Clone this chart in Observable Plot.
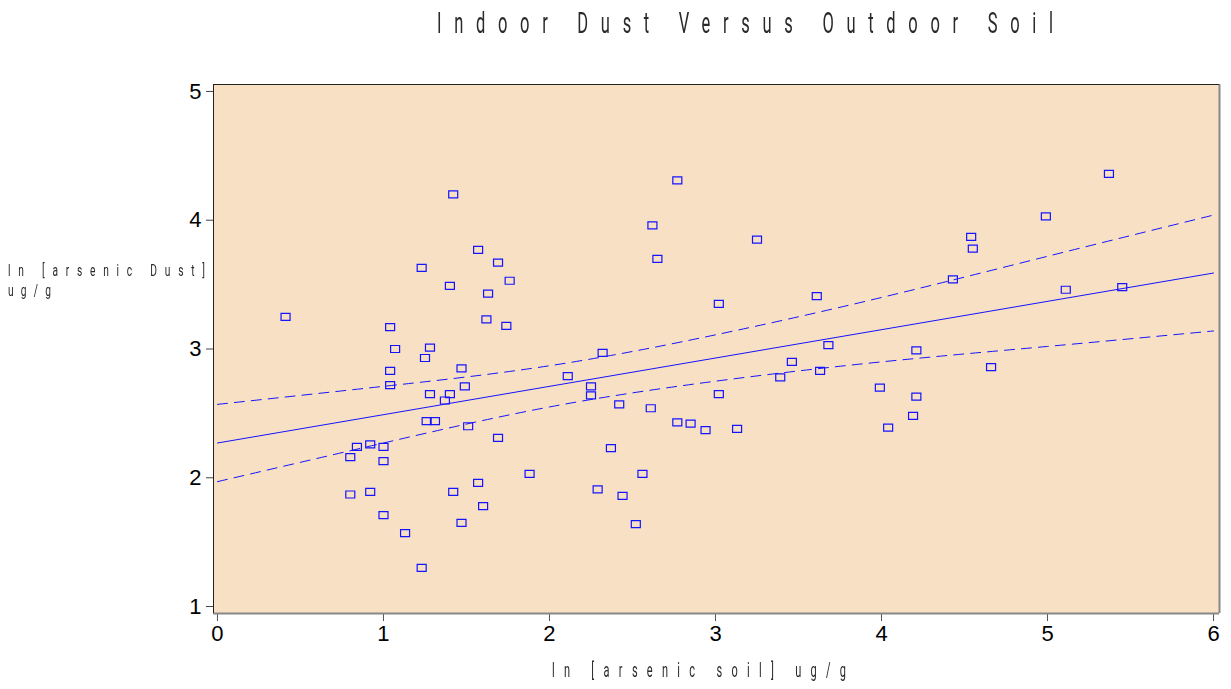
<!DOCTYPE html>
<html><head><meta charset="utf-8">
<script src="https://cdn.jsdelivr.net/npm/d3@7"></script>
<script src="https://cdn.jsdelivr.net/npm/@observablehq/plot@0.6"></script>
<style>body{margin:0;background:#fff;overflow:hidden}</style>
</head><body><div id="chart"></div>
<script>
// ln [arsenic soil] ug/g
const soil = [0.41,0.80,0.80,0.84,0.92,0.92,1.00,1.00,1.00,1.04,1.04,1.04,1.07,1.13,1.23,1.23,1.25,1.28,1.28,1.26,
  1.31,1.42,1.40,1.40,1.37,1.42,1.47,1.49,1.47,1.51,1.57,1.57,1.60,1.62,1.63,1.69,1.69,1.74,1.76,1.88,
  2.11,2.25,2.25,2.29,2.32,2.37,2.42,2.44,2.52,2.56,2.61,2.62,2.65,2.77,2.77,2.85,2.94,3.02,3.02,3.13,
  3.25,3.39,3.46,3.61,3.63,3.68,3.99,4.04,4.19,4.21,4.21,4.43,4.54,4.55,4.66,4.99,5.11,5.37,5.45];
// ln [arsenic Dust] ug/g
const dust = [3.25,2.16,1.87,2.24,2.26,1.89,2.24,2.13,1.71,3.17,2.83,2.72,3.00,1.57,3.63,1.30,2.93,3.01,2.65,2.44,
  2.44,4.20,3.49,2.65,2.60,1.89,2.85,2.71,1.65,2.40,3.77,1.96,1.78,3.23,3.43,3.67,2.31,3.18,3.53,2.03,
  2.79,2.71,2.64,1.91,2.97,2.23,2.57,1.86,1.64,2.03,2.54,3.96,3.70,4.31,2.43,2.42,2.37,3.35,2.65,2.38,
  3.85,2.78,2.90,3.41,2.83,3.03,2.70,2.39,2.48,2.99,2.63,3.54,3.87,3.78,2.86,4.03,3.46,4.36,3.48];
// regression line and confidence limits
const fitX = [0, 6];
const fitY = [2.27, 3.59];
const ciX = [0, 1, 2, 3, 4, 5, 6];
const ciUpper = [2.57, 2.71, 2.87, 3.11, 3.40, 3.72, 4.04];
const ciLower = [1.97, 2.27, 2.55, 2.75, 2.90, 3.02, 3.14];
const xTicks = [0, 1, 2, 3, 4, 5, 6];
const yTicks = [1, 2, 3, 4, 5];
const title = "Indoor Dust Versus Outdoor Soil";
const yLabel1 = "ln [arsenic Dust]";
const yLabel2 = "ug/g";
const xLabel = "ln [arsenic soil] ug/g";

const bg = "#f8e0c4";
const blue = "#1414ff";
const pts = soil.map((x, i) => ({x, y: dust[i]}));
const fit = fitX.map((x, i) => ({x, y: fitY[i]}));
const up = ciX.map((x, i) => ({x, y: ciUpper[i]}));
const lo = ciX.map((x, i) => ({x, y: ciLower[i]}));
const box = {draw(ctx) { ctx.moveTo(-4.5, -3.5); ctx.lineTo(4.5, -3.5); ctx.lineTo(4.5, 3.5); ctx.lineTo(-4.5, 3.5); ctx.closePath(); }};

const chart = Plot.plot({
  width: 1231, height: 689,
  marginTop: 84, marginBottom: 76, marginLeft: 213, marginRight: 12,
  style: {background: "#fff", fontFamily: "'Liberation Sans', Arial, sans-serif", fontSize: "22px", color: "#000"},
  x: {domain: [-0.024, 6.036]},
  y: {domain: [0.946, 5.054]},
  marks: [
    Plot.frame({fill: bg}),
    Plot.axisX({ticks: xTicks, tickSize: 8, tickPadding: 4, stroke: "#555", fill: "#000", label: null, tickFormat: d => String(d)}),
    Plot.axisY({ticks: yTicks, tickSize: 7, tickPadding: 5, stroke: "#444", fill: "#000", label: null, tickFormat: d => String(d)}),
    Plot.line(up, {x: "x", y: "y", stroke: blue, strokeWidth: 1, strokeDasharray: "10,7", curve: "natural"}),
    Plot.line(lo, {x: "x", y: "y", stroke: blue, strokeWidth: 1, strokeDasharray: "10,7", curve: "natural"}),
    Plot.line(fit, {x: "x", y: "y", stroke: blue, strokeWidth: 1}),
    Plot.dot(pts, {x: "x", y: "y", symbol: box, stroke: blue, strokeWidth: 1.2, fill: "none"}),
    Plot.ruleY([0.946], {stroke: "#888", strokeWidth: 2}),
    Plot.ruleX([6.036], {stroke: "#888", strokeWidth: 2}),
    Plot.ruleY([5.054], {stroke: "#222", strokeWidth: 1}),
    Plot.ruleX([-0.024], {stroke: "#222", strokeWidth: 1})
  ]
});
document.getElementById("chart").appendChild(chart);

// thin, condensed, letter-spaced texts (lines: [text, x, baseline y, width])
const svg = d3.select(chart);
function thinText(lines, size, sx) {
  const t = svg.append("text")
    .attr("transform", `scale(${sx},1)`)
    .attr("text-anchor", "start")
    .attr("font-family", "Roboto, Lato, 'DejaVu Sans', sans-serif")
    .attr("font-weight", 400)
    .attr("font-size", size)
    .attr("fill", "#2a2a2a")
    .style("filter", "grayscale(1)");
  for (const [txt, x, y, width] of lines) {
    t.append("tspan")
      .attr("x", x / sx).attr("y", y)
      .attr("textLength", width / sx)
      .attr("lengthAdjust", "spacing")
      .text(txt);
  }
}
thinText([[title, 437, 33, 616]], 30, 0.55);
thinText([[yLabel1, 8, 276, 197], [yLabel2, 8, 296, 43]], 17, 0.6);
thinText([[xLabel, 552, 677, 294]], 20, 0.55);
</script>
</body></html>
